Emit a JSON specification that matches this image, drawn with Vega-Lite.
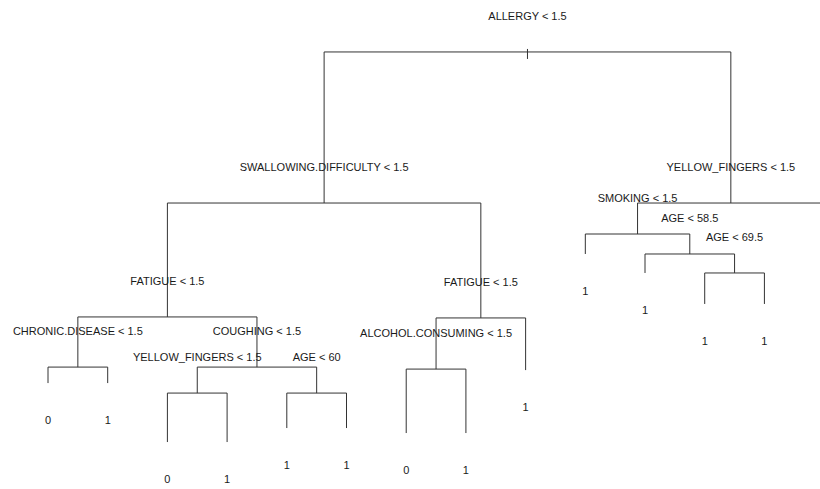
{
  "$schema": "https://vega.github.io/schema/vega-lite/v6.json",
  "width": 820,
  "height": 489,
  "autosize": {"type": "none"},
  "padding": 0,
  "background": "white",
  "config": {
    "view": {"stroke": null},
    "text": {"font": "Liberation Sans, Arial, sans-serif", "fontSize": 11, "color": "#1a1a1a"},
    "rule": {"color": "#333333", "strokeWidth": 1}
  },
  "data": {
    "values": [
      {"node": "root", "kind": "split", "label": "ALLERGY < 1.5", "x": 9.03125, "dev": 234.2, "leftX": 5.625, "rightX": 12.4375, "stubHi": 236.0, "stubLo": 230.0},
      {"node": "swallow", "kind": "split", "label": "SWALLOWING.DIFFICULTY < 1.5", "x": 5.625, "dev": 143.5, "parentDev": 234.2, "leftX": 3, "rightX": 8.25},
      {"node": "fatigue_a", "kind": "split", "label": "FATIGUE < 1.5", "x": 3, "dev": 75.1, "parentDev": 143.5, "leftX": 1.5, "rightX": 4.5},
      {"node": "chronic", "kind": "split", "label": "CHRONIC.DISEASE < 1.5", "x": 1.5, "dev": 45.0, "parentDev": 75.1, "leftX": 1, "rightX": 2},
      {"node": "coughing", "kind": "split", "label": "COUGHING < 1.5", "x": 4.5, "dev": 45.0, "parentDev": 75.1, "leftX": 3.5, "rightX": 5.5},
      {"node": "yellow_b", "kind": "split", "label": "YELLOW_FINGERS < 1.5", "x": 3.5, "dev": 29.4, "parentDev": 45.0, "leftX": 3, "rightX": 4},
      {"node": "age60", "kind": "split", "label": "AGE < 60", "x": 5.5, "dev": 29.4, "parentDev": 45.0, "leftX": 5, "rightX": 6},
      {"node": "fatigue_b", "kind": "split", "label": "FATIGUE < 1.5", "x": 8.25, "dev": 74.5, "parentDev": 143.5, "leftX": 7.5, "rightX": 9},
      {"node": "alcohol", "kind": "split", "label": "ALCOHOL.CONSUMING < 1.5", "x": 7.5, "dev": 43.8, "parentDev": 74.5, "leftX": 7, "rightX": 8},
      {"node": "yellow_a", "kind": "split", "label": "YELLOW_FINGERS < 1.5", "x": 12.4375, "dev": 143.5, "parentDev": 234.2, "leftX": 10.875, "rightX": 14},
      {"node": "smoking", "kind": "split", "label": "SMOKING < 1.5", "x": 10.875, "dev": 124.9, "parentDev": 143.5, "leftX": 10, "rightX": 11.75},
      {"node": "age58", "kind": "split", "label": "AGE < 58.5", "x": 11.75, "dev": 112.9, "parentDev": 124.9, "leftX": 11, "rightX": 12.5},
      {"node": "age69", "kind": "split", "label": "AGE < 69.5", "x": 12.5, "dev": 101.5, "parentDev": 112.9, "leftX": 12, "rightX": 13},
      {"node": "leaf1", "kind": "leaf", "label": "0", "x": 1, "dev": 35.4, "parentDev": 45.0},
      {"node": "leaf2", "kind": "leaf", "label": "1", "x": 2, "dev": 35.4, "parentDev": 45.0},
      {"node": "leaf3", "kind": "leaf", "label": "0", "x": 3, "dev": 0, "parentDev": 29.4},
      {"node": "leaf4", "kind": "leaf", "label": "1", "x": 4, "dev": 0, "parentDev": 29.4},
      {"node": "leaf5", "kind": "leaf", "label": "1", "x": 5, "dev": 8.4, "parentDev": 29.4},
      {"node": "leaf6", "kind": "leaf", "label": "1", "x": 6, "dev": 8.4, "parentDev": 29.4},
      {"node": "leaf7", "kind": "leaf", "label": "0", "x": 7, "dev": 5.4, "parentDev": 43.8},
      {"node": "leaf8", "kind": "leaf", "label": "1", "x": 8, "dev": 5.4, "parentDev": 43.8},
      {"node": "leaf9", "kind": "leaf", "label": "1", "x": 9, "dev": 43.2, "parentDev": 74.5},
      {"node": "leaf10", "kind": "leaf", "label": "1", "x": 10, "dev": 112.9, "parentDev": 124.9},
      {"node": "leaf11", "kind": "leaf", "label": "1", "x": 11, "dev": 101.5, "parentDev": 112.9},
      {"node": "leaf12", "kind": "leaf", "label": "1", "x": 12, "dev": 82.9, "parentDev": 101.5},
      {"node": "leaf13", "kind": "leaf", "label": "1", "x": 13, "dev": 82.9, "parentDev": 101.5},
      {"node": "leaf14", "kind": "leaf", "label": "1", "x": 14, "dev": 0, "parentDev": 143.5}
    ]
  },
  "encoding": {
    "x": {"field": "x", "type": "quantitative", "scale": {"domain": [0.196, 13.931], "nice": false, "zero": false}, "axis": null}
  },
  "layer": [
    {
      "transform": [{"filter": "isValid(datum.parentDev)"}],
      "mark": {"type": "rule", "clip": true},
      "encoding": {
        "y": {"field": "parentDev", "type": "quantitative", "scale": {"domain": [-28.2, 265.4], "nice": false, "zero": false}, "axis": null},
        "y2": {"field": "dev"}
      }
    },
    {
      "transform": [{"filter": "datum.kind === 'split'"}],
      "mark": {"type": "rule", "clip": true},
      "encoding": {
        "x": {"field": "leftX", "type": "quantitative"},
        "x2": {"field": "rightX"},
        "y": {"field": "dev", "type": "quantitative"}
      }
    },
    {
      "transform": [{"filter": "isValid(datum.stubHi)"}],
      "mark": {"type": "rule", "clip": true},
      "encoding": {
        "y": {"field": "stubHi", "type": "quantitative"},
        "y2": {"field": "stubLo"}
      }
    },
    {
      "transform": [{"filter": "datum.kind === 'split'"}],
      "mark": {"type": "text", "baseline": "middle", "align": "center", "dy": -35, "clip": true},
      "encoding": {
        "y": {"field": "dev", "type": "quantitative"},
        "text": {"field": "label"}
      }
    },
    {
      "transform": [{"filter": "datum.kind === 'leaf' && datum.x < 13.9"}],
      "mark": {"type": "text", "baseline": "middle", "align": "center", "dy": 38, "clip": true},
      "encoding": {
        "y": {"field": "dev", "type": "quantitative"},
        "text": {"field": "label"}
      }
    }
  ]
}
